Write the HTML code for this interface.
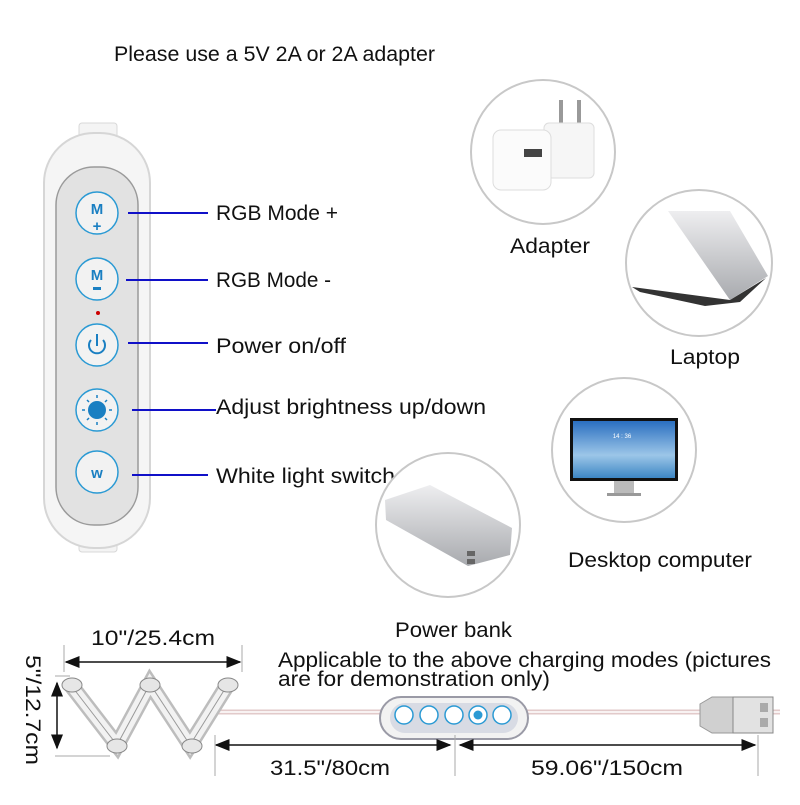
<!DOCTYPE html>
<html><head><meta charset="utf-8"><style>
body{margin:0;background:#fff}
svg text{font-family:"Liberation Sans",sans-serif;fill:#111}
</style></head><body>
<svg width="800" height="800" viewBox="0 0 800 800" xmlns="http://www.w3.org/2000/svg">
<defs>
<linearGradient id="sil" x1="0" y1="0" x2="0" y2="1"><stop offset="0" stop-color="#eeeef0"/><stop offset="1" stop-color="#a8aaae"/></linearGradient>
<linearGradient id="scr" x1="0" y1="0" x2="0" y2="1"><stop offset="0" stop-color="#2a6fc0"/><stop offset="0.6" stop-color="#9cc6e8"/><stop offset="1" stop-color="#3d86c4"/></linearGradient>
<marker id="ar" markerWidth="10" markerHeight="8" refX="9" refY="4" orient="auto-start-reverse"><path d="M0,0 L10,4 L0,8 z" fill="#111"/></marker>
</defs>
<text x="114" y="61" font-size="21" textLength="321" lengthAdjust="spacingAndGlyphs">Please use a 5V 2A or 2A adapter</text>

<!-- remote -->
<rect x="79" y="123" width="38" height="20" rx="3" fill="#f4f4f4" stroke="#d8d8d8"/>
<rect x="79" y="532" width="38" height="20" rx="3" fill="#f4f4f4" stroke="#d8d8d8"/>
<rect x="44" y="133" width="106" height="415" rx="50" fill="#f5f5f5" stroke="#d6d6d6" stroke-width="2"/>
<rect x="56" y="167" width="82" height="358" rx="38" fill="#e2e2e2" stroke="#9a9a9a" stroke-width="1.5"/>
<g fill="#f2f2f2" stroke="#2b9ad4" stroke-width="1.5">
<circle cx="97" cy="213" r="21"/><circle cx="97" cy="279" r="21"/><circle cx="97" cy="345" r="21"/><circle cx="97" cy="410" r="21"/><circle cx="97" cy="472" r="21"/>
</g>
<text x="97" y="214" font-size="15" font-weight="bold" text-anchor="middle" style="fill:#1a7fc2">M</text>
<text x="97" y="231" font-size="15" font-weight="bold" text-anchor="middle" style="fill:#1a7fc2">+</text>
<text x="97" y="280" font-size="15" font-weight="bold" text-anchor="middle" style="fill:#1a7fc2">M</text>
<rect x="93" y="287" width="8" height="3" fill="#1a7fc2"/>
<circle cx="98" cy="313" r="2" fill="#c00"/>
<path d="M91,340 A8,8 0 1 0 103,340" fill="none" stroke="#1a7fc2" stroke-width="2"/>
<line x1="97" y1="334" x2="97" y2="346" stroke="#1a7fc2" stroke-width="2"/>
<circle cx="97" cy="410" r="9" fill="#1a7fc2"/>
<g stroke="#1a7fc2" stroke-width="1.5"><line x1="97" y1="395" x2="97" y2="398"/><line x1="97" y1="422" x2="97" y2="425"/><line x1="82" y1="410" x2="85" y2="410"/><line x1="109" y1="410" x2="112" y2="410"/><line x1="87" y1="400" x2="89" y2="402"/><line x1="105" y1="418" x2="107" y2="420"/><line x1="107" y1="400" x2="105" y2="402"/><line x1="87" y1="420" x2="89" y2="418"/></g>
<text x="97" y="478" font-size="15" font-weight="bold" text-anchor="middle" style="fill:#1a7fc2">w</text>

<g stroke="#1010c8" stroke-width="2">
<line x1="128" y1="213" x2="208" y2="213"/><line x1="126" y1="280" x2="208" y2="280"/><line x1="128" y1="343" x2="208" y2="343"/><line x1="132" y1="410" x2="216" y2="410"/><line x1="132" y1="475" x2="208" y2="475"/>
</g>
<g font-size="21">
<text x="216" y="220" textLength="122" lengthAdjust="spacingAndGlyphs">RGB Mode +</text>
<text x="216" y="287" textLength="115" lengthAdjust="spacingAndGlyphs">RGB Mode -</text>
<text x="216" y="353" textLength="130" lengthAdjust="spacingAndGlyphs">Power on/off</text>
<text x="216" y="414" textLength="270" lengthAdjust="spacingAndGlyphs">Adjust brightness up/down</text>
<text x="216" y="483" textLength="179" lengthAdjust="spacingAndGlyphs">White light switch</text>
</g>

<!-- device circles -->
<g fill="#fff" stroke="#c8c8c8" stroke-width="2">
<circle cx="543" cy="152" r="72"/><circle cx="699" cy="263" r="73"/><circle cx="624" cy="450" r="72"/><circle cx="448" cy="525" r="72"/>
</g>
<!-- adapter -->
<rect x="559" y="100" width="4" height="28" fill="#999"/><rect x="577" y="100" width="4" height="28" fill="#999"/>
<rect x="544" y="123" width="50" height="55" rx="5" fill="#f6f6f6" stroke="#ddd"/>
<rect x="493" y="130" width="58" height="60" rx="8" fill="#fbfbfb" stroke="#ddd"/>
<rect x="524" y="149" width="18" height="8" fill="#444"/>
<!-- laptop -->
<path d="M668,211 L730,211 L768,276 L730,300 Z" fill="url(#sil)"/>
<path d="M632,287 L730,300 L766,278 L740,302 L705,306 L640,292 Z" fill="#333"/>
<!-- desktop -->
<rect x="570" y="418" width="108" height="63" fill="#111"/>
<rect x="573" y="421" width="102" height="57" fill="url(#scr)"/>
<text x="622" y="438" font-size="6" text-anchor="middle" style="fill:#fff">14 : 36</text>
<rect x="614" y="481" width="20" height="12" fill="#bbb"/><rect x="607" y="493" width="34" height="3" fill="#999"/>
<!-- power bank -->
<path d="M385,500 L430,485 L512,528 L510,555 L468,566 L386,520 Z" fill="url(#sil)"/>
<rect x="467" y="551" width="8" height="5" fill="#666"/><rect x="467" y="559" width="8" height="5" fill="#666"/>

<g font-size="21">
<text x="510" y="253" textLength="80" lengthAdjust="spacingAndGlyphs">Adapter</text>
<text x="670" y="364" textLength="70" lengthAdjust="spacingAndGlyphs">Laptop</text>
<text x="568" y="567" textLength="184" lengthAdjust="spacingAndGlyphs">Desktop computer</text>
<text x="395" y="637" textLength="117" lengthAdjust="spacingAndGlyphs">Power bank</text>
<text x="278" y="667" textLength="493" lengthAdjust="spacingAndGlyphs">Applicable to the above charging modes (pictures</text>
<text x="278" y="686" textLength="272" lengthAdjust="spacingAndGlyphs">are for demonstration only)</text>
</g>

<!-- cable -->
<line x1="210" y1="712" x2="780" y2="712" stroke="#e2caca" stroke-width="5"/>
<line x1="210" y1="712" x2="780" y2="712" stroke="#f8f2f2" stroke-width="2"/>
<!-- W light -->
<path d="M70,684 L117,745 L150,684 L190,745 L228,684" fill="none" stroke="#bdbdbd" stroke-width="16" stroke-linejoin="miter"/>
<path d="M70,684 L117,745 L150,684 L190,745 L228,684" fill="none" stroke="#f2f2f2" stroke-width="11"/>
<path d="M70,684 L117,745 L150,684 L190,745 L228,684" fill="none" stroke="#999" stroke-width="1"/>
<g fill="#e6e6e6" stroke="#888">
<ellipse cx="72" cy="685" rx="10" ry="7"/><ellipse cx="150" cy="685" rx="10" ry="7"/><ellipse cx="228" cy="685" rx="10" ry="7"/>
<ellipse cx="117" cy="746" rx="10" ry="7"/><ellipse cx="192" cy="746" rx="10" ry="7"/>
</g>
<!-- inline remote -->
<rect x="380" y="697" width="148" height="42" rx="21" fill="#f2f2f2" stroke="#9a9aa6" stroke-width="2"/>
<rect x="390" y="703" width="128" height="30" rx="15" fill="#d8dbe4"/>
<g fill="#fff" stroke="#2b9ad4" stroke-width="1.5">
<circle cx="404" cy="715" r="9"/><circle cx="429" cy="715" r="9"/><circle cx="454" cy="715" r="9"/><circle cx="478" cy="715" r="9"/><circle cx="502" cy="715" r="9"/>
</g>
<circle cx="478" cy="715" r="4.5" fill="#2b9ad4"/>
<!-- usb -->
<path d="M700,704 L712,697 L735,697 L735,733 L712,733 L700,726 Z" fill="#d0d0d0" stroke="#999"/>
<rect x="733" y="697" width="40" height="36" fill="#e2e2e2" stroke="#888"/>
<rect x="760" y="703" width="8" height="9" fill="#aaa"/><rect x="760" y="718" width="8" height="9" fill="#aaa"/>
<!-- dims -->
<g stroke="#111" stroke-width="1.5" fill="none">
<line x1="66" y1="662" x2="240" y2="662" marker-start="url(#ar)" marker-end="url(#ar)"/>
<line x1="57" y1="683" x2="57" y2="748" marker-start="url(#ar)" marker-end="url(#ar)"/>
<line x1="216" y1="745" x2="450" y2="745" marker-start="url(#ar)" marker-end="url(#ar)"/>
<line x1="460" y1="745" x2="755" y2="745" marker-start="url(#ar)" marker-end="url(#ar)"/>
</g>
<g stroke="#aaa" stroke-width="1">
<line x1="64" y1="645" x2="64" y2="672"/><line x1="242" y1="645" x2="242" y2="672"/>
<line x1="215" y1="735" x2="215" y2="776"/><line x1="455" y1="735" x2="455" y2="776"/><line x1="758" y1="735" x2="758" y2="776"/>
<line x1="55" y1="676" x2="70" y2="676"/><line x1="55" y1="756" x2="110" y2="756"/>
</g>
<g font-size="21">
<text x="91" y="645" textLength="124" lengthAdjust="spacingAndGlyphs">10"/25.4cm</text>
<text x="270" y="775" textLength="120" lengthAdjust="spacingAndGlyphs">31.5"/80cm</text>
<text x="531" y="775" textLength="152" lengthAdjust="spacingAndGlyphs">59.06"/150cm</text>
<text transform="translate(26,655) rotate(90)" textLength="110" lengthAdjust="spacingAndGlyphs">5"/12.7cm</text>
</g>
</svg>
</body></html>
